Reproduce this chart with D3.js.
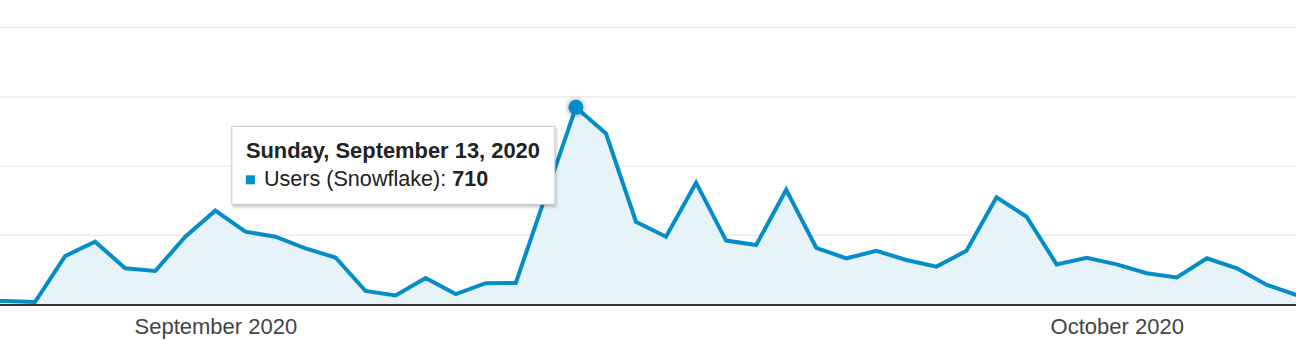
<!DOCTYPE html>
<html>
<head>
<meta charset="utf-8">
<script src="https://cdn.jsdelivr.net/npm/d3@7"></script>
<style>
  body { margin: 0; background: #fff; }
  svg { display: block; font-family: "Liberation Sans", Arial, sans-serif; }
</style>
</head>
<body>
<div id="chart"></div>
<script>
// daily users, Aug 24 - Oct 7 2020
const days = [
  "2020-08-24", "2020-08-25", "2020-08-26", "2020-08-27", "2020-08-28", "2020-08-29", "2020-08-30", "2020-08-31",
  "2020-09-01", "2020-09-02", "2020-09-03", "2020-09-04", "2020-09-05", "2020-09-06", "2020-09-07", "2020-09-08",
  "2020-09-09", "2020-09-10", "2020-09-11", "2020-09-12", "2020-09-13", "2020-09-14", "2020-09-15", "2020-09-16",
  "2020-09-17", "2020-09-18", "2020-09-19", "2020-09-20", "2020-09-21", "2020-09-22", "2020-09-23", "2020-09-24",
  "2020-09-25", "2020-09-26", "2020-09-27", "2020-09-28", "2020-09-29", "2020-09-30", "2020-10-01", "2020-10-02",
  "2020-10-03", "2020-10-04", "2020-10-05", "2020-10-06", "2020-10-07"
];
const users = [
  12, 11, 7, 173, 225, 129, 119, 243,
  337, 261, 243, 201, 168, 47, 31, 94,
  36, 75, 76, 393, 710, 616, 297, 243,
  438, 229, 213, 412, 203, 165, 192, 159,
  135, 192, 385, 315, 143, 167, 143, 111,
  96, 165, 129, 69, 32
];
const gridTicks = [0, 250, 500, 750, 1000];
const monthTicks = ["2020-09-01", "2020-10-01"];
const seriesName = "Users (Snowflake)";
const highlightDay = "2020-09-13";

const width = 1296, height = 345;
const parse = d3.timeParse("%Y-%m-%d");
const data = days.map((d, i) => ({ date: parse(d), value: users[i] }));

const svg = d3.select("#chart").append("svg")
  .attr("width", width)
  .attr("height", height);

const defs = svg.append("defs");
const shadow = defs.append("filter").attr("id", "tipShadow")
  .attr("x", "-10%").attr("y", "-10%").attr("width", "130%").attr("height", "140%");
shadow.append("feDropShadow")
  .attr("dx", 1).attr("dy", 2).attr("stdDeviation", 1.5)
  .attr("flood-color", "#000").attr("flood-opacity", 0.25);

const halo = defs.append("filter").attr("id", "halo")
  .attr("x", "-50%").attr("y", "-50%").attr("width", "200%").attr("height", "200%");
halo.append("feGaussianBlur").attr("stdDeviation", 1.5);

const x = d3.scaleTime()
  .domain([parse("2020-08-25"), parse("2020-10-07")])
  .range([5, 1297]);

const y = d3.scaleLinear()
  .domain([0, 1000])
  .range([304, 27]);

// gridlines
svg.append("g")
  .call(d3.axisLeft(y).tickValues(gridTicks).tickSize(-width).tickFormat(""))
  .call(g => g.select(".domain").remove())
  .call(g => g.selectAll(".tick line")
    .attr("stroke", "#ebebeb")
    .attr("stroke-width", 1.5));

// area + line
const area = d3.area()
  .x(d => x(d.date))
  .y0(y(0))
  .y1(d => y(d.value));

const line = d3.line()
  .x(d => x(d.date))
  .y(d => y(d.value));

svg.append("path")
  .datum(data)
  .attr("fill", "#e6f3f9")
  .attr("d", area);

svg.append("path")
  .datum(data)
  .attr("fill", "none")
  .attr("stroke", "#058dc7")
  .attr("stroke-width", 4)
  .attr("stroke-linejoin", "miter")
  .attr("d", line);

// baseline
svg.append("line")
  .attr("x1", 0).attr("x2", width)
  .attr("y1", y(0) + 1).attr("y2", y(0) + 1)
  .attr("stroke", "#333")
  .attr("stroke-width", 2);

// month labels
svg.append("g")
  .attr("transform", `translate(0, ${y(0)})`)
  .call(d3.axisBottom(x)
    .tickValues(monthTicks.map(parse))
    .tickSize(0)
    .tickFormat(d3.timeFormat("%B %Y")))
  .call(g => g.select(".domain").remove())
  .call(g => g.selectAll(".tick text")
    .attr("y", 30)
    .attr("dy", 0)
    .attr("fill", "#444")
    .style("font-family", "'Liberation Sans', Arial, sans-serif")
    .style("font-size", "22px"));

// highlighted point
const hp = data.find(d => +d.date === +parse(highlightDay));
const px = x(hp.date), py = y(hp.value);

svg.append("circle")
  .attr("cx", px).attr("cy", py).attr("r", 10)
  .attr("fill", "rgba(0,0,0,0.15)")
  .attr("filter", "url(#halo)");
svg.append("circle")
  .attr("cx", px).attr("cy", py).attr("r", 7.5)
  .attr("fill", "#058dc7");

// tooltip
const tip = svg.append("g")
  .attr("transform", `translate(${px - 344}, ${py + 19})`);

tip.append("rect")
  .attr("x", 0).attr("y", 0)
  .attr("width", 323).attr("height", 78)
  .attr("fill", "#fff")
  .attr("stroke", "#c8c8c8")
  .attr("stroke-width", 1)
  .attr("filter", "url(#tipShadow)");

tip.append("text")
  .attr("x", 14).attr("y", 32)
  .attr("fill", "#222")
  .style("font-size", "21.9px")
  .style("font-weight", "bold")
  .text(d3.timeFormat("%A, %B %-d, %Y")(hp.date));

tip.append("rect")
  .attr("x", 14).attr("y", 49)
  .attr("width", 9).attr("height", 9)
  .attr("fill", "#058dc7");

const t2 = tip.append("text")
  .attr("x", 32).attr("y", 60)
  .attr("fill", "#222")
  .style("font-size", "21.6px");
t2.append("tspan").text(seriesName + ": ");
t2.append("tspan").style("font-weight", "bold").text(hp.value);
</script>
</body>
</html>
